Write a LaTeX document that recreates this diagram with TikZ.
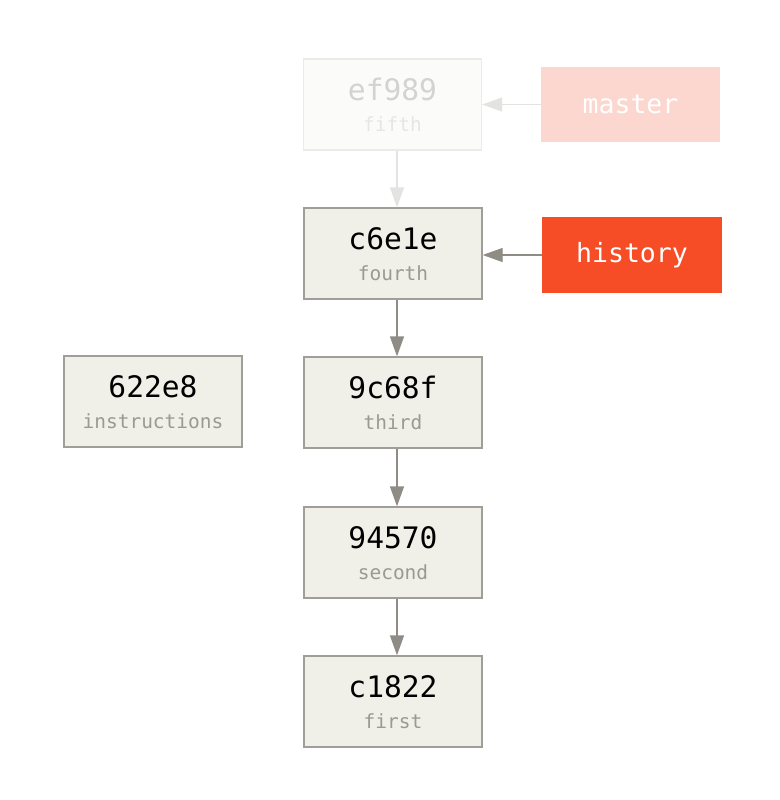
\documentclass[tikz,border=0pt]{standalone}
\usepackage{fontspec}
\setmonofont{DejaVu Sans Mono}
\usetikzlibrary{arrows.meta}
\definecolor{cfill}{HTML}{F0EFE8}
\definecolor{cdraw}{HTML}{A09E99}
\definecolor{csub}{HTML}{9A9994}
\definecolor{carrow}{HTML}{8F8C85}
\definecolor{ffill}{HTML}{FBFBF9}
\definecolor{fdraw}{HTML}{EBEBEA}
\definecolor{ftext}{HTML}{D3D3D1}
\definecolor{fsub}{HTML}{E6E6E4}
\definecolor{farrow}{HTML}{E3E3E1}
\definecolor{hfill}{HTML}{F64D27}
\definecolor{mfill}{HTML}{FCD7CF}
\tikzset{
  commit/.style={draw=cdraw, fill=cfill, line width=1.3pt, minimum width=178pt, minimum height=91pt, inner sep=0pt},
  fcommit/.style={commit, draw=fdraw, fill=ffill},
  hashtxt/.style={font=\ttfamily\fontsize{29.6}{31}\selectfont, text=black, inner sep=0pt},
  subtxt/.style={font=\ttfamily\fontsize{19.5}{22}\selectfont, text=csub, inner sep=0pt},
  branch/.style={fill=hfill, minimum width=180pt, minimum height=76pt, inner sep=0pt, text=white, font=\ttfamily\fontsize{26.5}{28}\selectfont},
  arr/.style={draw=carrow, line width=1.3pt, -{Triangle[length=20pt,width=14pt]}},
  farr/.style={arr, draw=farrow},
}
\begin{document}
\begin{tikzpicture}[x=1pt,y=-1pt]
\useasboundingbox (0,0) rectangle (779,800);
% commits
\node[fcommit] (ef989) at (392.5,104.5) {};
\node[hashtxt, text=ftext] (ef989h) at (392.5,89) {ef989};
\node[subtxt, text=fsub] (ef989s) at (392.5,124) {fifth};

\node[commit] (c6e1e) at (393,253.5) {};
\node[hashtxt] (c6e1eh) at (393,238.5) {c6e1e};
\node[subtxt] (c6e1es) at (393,273) {fourth};

\node[commit] (i622e8) at (153,401.5) {};
\node[hashtxt] (i622e8h) at (153,386.5) {622e8};
\node[subtxt] (i622e8s) at (153,421) {instructions};

\node[commit] (n9c68f) at (393,402.5) {};
\node[hashtxt] (n9c68fh) at (393,387.5) {9c68f};
\node[subtxt] (n9c68fs) at (393,422) {third};

\node[commit] (n94570) at (393,552.5) {};
\node[hashtxt] (n94570h) at (393,537.5) {94570};
\node[subtxt] (n94570s) at (393,572) {second};

\node[commit] (c1822) at (393,701.5) {};
\node[hashtxt] (c1822h) at (393,686.5) {c1822};
\node[subtxt] (c1822s) at (393,721) {first};

% branches
\node[branch, fill=mfill, minimum width=179pt, minimum height=75pt] (master) at (630.5,104.5) {master};
\node[branch] (history) at (632,255) {history};

% arrows
\draw[farr] (master.west) -- (master.west -| ef989.east);
\draw[arr] (history.west) -- (history.west -| c6e1e.east);
\draw[farr] ([xshift=4.5pt]ef989.south) -- ([xshift=4pt]c6e1e.north);
\draw[arr] ([xshift=4pt]c6e1e.south) -- ([xshift=4pt]n9c68f.north);
\draw[arr] ([xshift=4pt]n9c68f.south) -- ([xshift=4pt]n94570.north);
\draw[arr] ([xshift=4pt]n94570.south) -- ([xshift=4pt]c1822.north);
\end{tikzpicture}
\end{document}
